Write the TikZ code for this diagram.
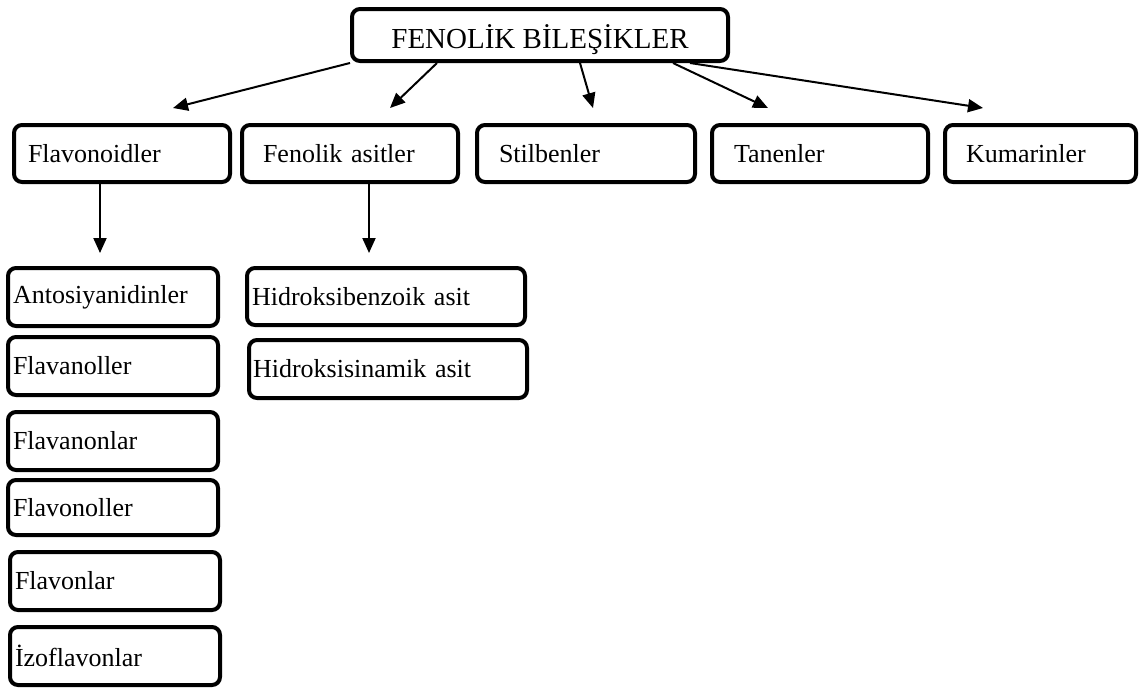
\documentclass[tikz,border=0pt]{standalone}
\usepackage{fontspec}
\setmainfont{Liberation Serif}
\usetikzlibrary{arrows.meta}

\begin{document}
\begin{tikzpicture}[x=1pt,y=-1pt,
    topbox/.style={draw, line width=4pt, rounded corners=8pt, inner sep=0pt, font=\fontsize{29}{33}\selectfont},
    groupbox/.style={draw, line width=4pt, rounded corners=8pt, align=left, inner ysep=0pt, minimum height=57pt, font=\fontsize{26}{30}\selectfont},
    subbox/.style={groupbox, inner xsep=5pt},
    arr/.style={line width=2pt, -{Triangle[length=15pt,width=13pt]}}]
    \useasboundingbox (0,0) rectangle (1141,689);

    \node[topbox, minimum width=376pt, minimum height=52pt, text height=26pt, text depth=0pt] (fb) at (540,35) {FENOLİK BİLEŞİKLER};

    \node[groupbox, inner xsep=14pt, text width=188pt] (flavo) at (122,153.5) {Flavonoidler};
    \node[groupbox, inner xsep=21pt, text width=174pt] (fenol) at (350,153.5) {Fenolik asitler};
    \node[groupbox, inner xsep=22pt, text width=174pt] (stil) at (586,153.5) {Stilbenler};
    \node[groupbox, inner xsep=22pt, text width=172pt] (tanen) at (820,153.5) {Tanenler};
    \node[groupbox, inner xsep=21pt, text width=149pt] (kumar) at (1040.5,153.5) {Kumarinler};

    \node[subbox, text width=200pt, minimum height=58pt] (anto) at (113,297) {Antosiyanidinler};
    \node[subbox, text width=200pt, minimum height=58pt] (flavanol) at (113,366) {Flavanoller};
    \node[subbox, text width=200pt, minimum height=58pt] (flavanon) at (113,441) {Flavanonlar};
    \node[subbox, text width=200pt, minimum height=55pt] (flavonol) at (113,507.5) {Flavonoller};
    \node[subbox, text width=200pt, minimum height=58pt] (flavon) at (115,581) {Flavonlar};
    \node[subbox, text width=200pt, minimum height=58pt] (izo) at (115,656) {İzoflavonlar};

    \node[subbox, text width=268pt] (hbenz) at (386,296.5) {Hidroksibenzoik asit};
    \node[subbox, inner xsep=4pt, text width=270pt, minimum height=58pt] (hsin) at (388,369) {Hidroksisinamik asit};

    \draw[arr] (fb.south west) -- ([xshift=51pt,yshift=15pt]flavo.north);
    \draw[arr] ([xshift=-103pt]fb.south) -- ([xshift=40pt,yshift=15pt]fenol.north);
    \draw[arr] ([xshift=40pt]fb.south) -- ([xshift=7pt,yshift=15pt]stil.north);
    \draw[arr] ([xshift=133pt]fb.south) -- ([xshift=-52pt,yshift=15pt]tanen.north);
    \draw[arr] ([xshift=150pt]fb.south) -- ([xshift=-57.5pt,yshift=15pt]kumar.north);

    \draw[arr] ([xshift=-22pt]flavo.south) -- ([xshift=-13pt,yshift=13pt]anto.north);
    \draw[arr] ([xshift=19pt]fenol.south) -- ([xshift=-17pt,yshift=13pt]hbenz.north);
\end{tikzpicture}
\end{document}
